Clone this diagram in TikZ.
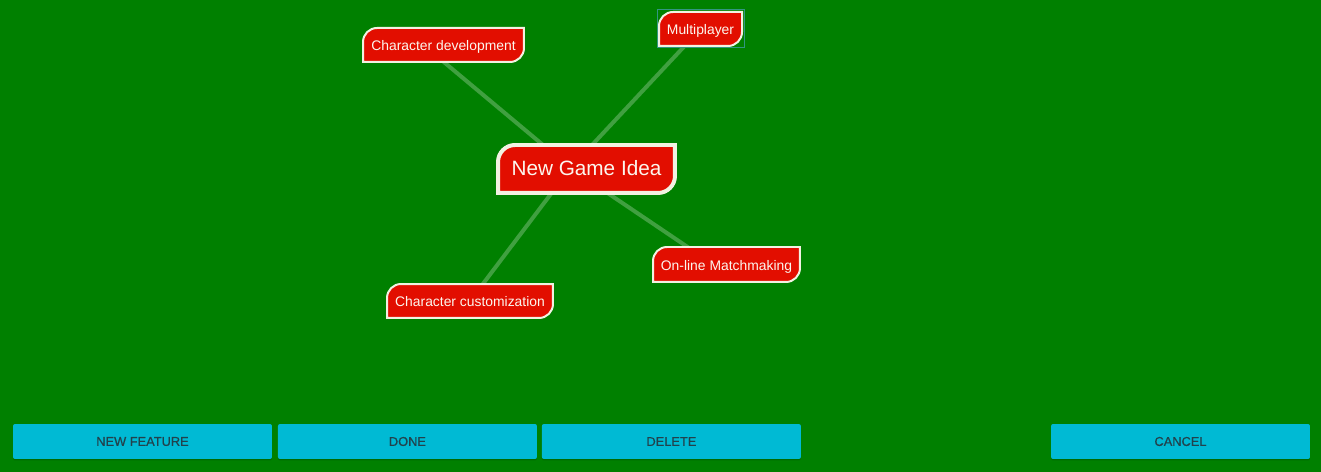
\documentclass[tikz,border=0pt]{standalone}
\usepackage{fontspec}
\setmainfont{Liberation Sans}
\newfontfamily\btnfont[FakeBold=0.6]{Liberation Sans}
\usepackage{xcolor}
\usepackage{tikz}
\usetikzlibrary{positioning, calc, backgrounds}

\definecolor{boardgreen}{RGB}{0,128,0}
\definecolor{ideared}{RGB}{226,14,0}
\definecolor{rimcream}{RGB}{242,242,226}
\definecolor{labelwhite}{RGB}{252,246,238}
\definecolor{btncyan}{RGB}{0,186,212}
\definecolor{btntext}{RGB}{34,66,76}
\definecolor{selteal}{RGB}{50,150,130}

% leaf frame: round top-left and bottom-right corners only
\newcommand\leafframe[3]{%
  \filldraw[#3] (#1.south west) -- ($(#1.north west)+(0,-#2)$)
    arc[start angle=180, end angle=90, radius=#2] -- (#1.north east)
    -- ($(#1.south east)+(0,#2)$)
    arc[start angle=0, end angle=-90, radius=#2] -- cycle;}

\begin{document}
\begin{tikzpicture}[
    x=0.02cm, y=0.02cm,
    idea/.style={inner sep=0pt, outer sep=0pt, text=labelwhite, font=\fontsize{7.9}{9}\selectfont, text height=8pt, text depth=1.7pt, minimum height=0.68cm},
    root/.style={idea, font=\fontsize{11.8}{13}\selectfont, text height=10.2pt, text depth=2.4pt, minimum width=3.54cm, minimum height=0.96cm},
    rim/.style={fill=ideared, draw=rimcream, line width=0.04cm},
    rootrim/.style={fill=ideared, draw=rimcream, line width=0.08cm},
    link/.style={draw=white!25!boardgreen, line width=0.08cm},
    btn/.style={fill=btncyan, rounded corners=0.04cm, inner sep=0pt, outer sep=0pt, minimum width=5.18cm, minimum height=0.7cm, text=btntext, font=\btnfont\fontsize{7.3}{9}\selectfont},
]
% idea nodes
\node[root] (newidea) at (586.5,-169) {New Game Idea};
\node[idea, minimum width=1.66cm] (multi) at (700.5,-29) {Multiplayer};
\node[idea, minimum width=3.22cm] (chardev) at (443.5,-45) {Character development};
\node[idea, minimum width=3.32cm] (charcust) at (470,-301) {Character customization};
\node[idea, minimum width=2.94cm, minimum height=0.7cm] (online) at (726.5,-264.5) {On-line Matchmaking};

% bottom buttons
\node[btn] (newfeat) at (142.5,-441.5) {NEW FEATURE};
\node[btn, right=0.12cm of newfeat] (done) {DONE};
\node[btn, right=0.1cm of done] (delete) {DELETE};
\node[btn] (cancel) at (1180.5,-441.5) {CANCEL};

\begin{pgfonlayer}{background}
  \fill[boardgreen] (0,0) rectangle (1321,-472);
  % faint shadow under the buttons
  \foreach \b in {newfeat, done, delete, cancel}
    \fill[black, opacity=0.15, rounded corners=0.04cm] ($(\b.south west)+(0,-1.5)$) rectangle (\b.north east);
  % links from the hub out to each idea
  \coordinate (hub) at ($(newidea.center)+(-16,1)$);
  \draw[link] (hub) -- ($(chardev.center)+(-20,0)$);
  \draw[link] (hub) -- (multi.center);
  \draw[link] (hub) -- (charcust.center);
  \draw[link] (hub) -- ($(online.center)+(-13,0)$);
  % frames
  \leafframe{newidea}{17}{rootrim}
  \leafframe{multi}{14}{rim}
  \leafframe{chardev}{14}{rim}
  \leafframe{charcust}{14}{rim}
  \leafframe{online}{14}{rim}
  % selected node outline
  \draw[selteal, line width=0.02cm] ($(multi.north west)+(-2,2)$) rectangle ($(multi.south east)+(2,-2)$);
\end{pgfonlayer}
\end{tikzpicture}
\end{document}
